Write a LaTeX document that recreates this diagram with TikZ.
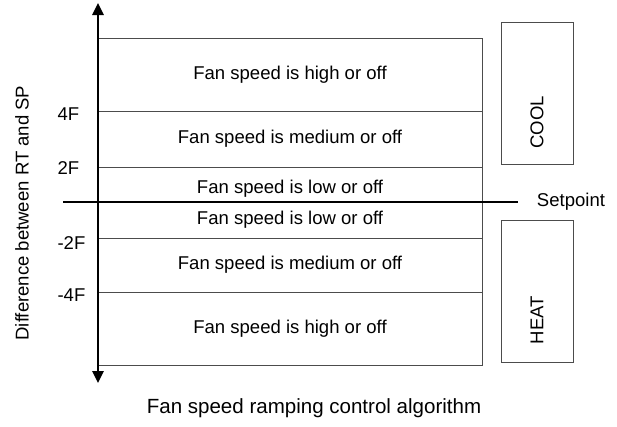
\documentclass[tikz,border=0pt]{standalone}
\usepackage{fontspec}
\setmainfont{Liberation Sans}
\usetikzlibrary{positioning,arrows.meta}

\begin{document}
\begin{tikzpicture}[x=0.75pt, y=-0.75pt, thick, >={Triangle[width=8.5pt,length=9pt]}, font=\fontsize{13.9}{16}\selectfont]
        \tikzstyle{band} = [rectangle, draw=black!70, line width=0.75pt, text centered,
                            minimum width=288pt, inner sep=0pt, outer sep=0pt]
        \tikzstyle{mode} = [rectangle, draw=black!70, line width=0.75pt,
                            minimum width=54pt, minimum height=106.5pt, outer sep=0pt]
        \tikzstyle{level} = [anchor=west, inner sep=0pt]
        \useasboundingbox (0,0) rectangle (617,426);

        % Bandes de vitesse du ventilateur
        \node[band, minimum height=54.75pt, anchor=north west] (high_cool) at (98,38) {Fan speed is high or off};
        \node[band, minimum height=42pt, below=0pt of high_cool] (med_cool) {Fan speed is medium or off};
        \node[band, minimum height=26.25pt, text height=16pt, below=0pt of med_cool] (low_cool) {Fan speed is low or off};
        \node[band, minimum height=27pt, below=0pt of low_cool] (low_heat) {Fan speed is low or off};
        \node[band, minimum height=40.5pt, below=0pt of low_heat] (med_heat) {Fan speed is medium or off};
        \node[band, minimum height=54.75pt, below=0pt of med_heat] (high_heat) {Fan speed is high or off};

        % Seuils
        \node[level] (plus4) at (57,114) {4F};
        \node[level] (plus2) at (57,168) {2F};
        \node[level] (minus2) at (57,243) {-2F};
        \node[level] (minus4) at (57,295) {-4F};

        % Axe vertical
        \coordinate (ytop) at (98,3);
        \coordinate (ybot) at (98,383);
        \draw[<->, line width=1.5pt] (ybot) -- (ytop);
        \node[rotate=90] (ylabel) at (22,213) {Difference between RT and SP};

        % Consigne
        \coordinate (sp_left) at (63,202);
        \coordinate (sp_right) at (518,202);
        \draw[line width=1.1pt] (sp_left) -- (sp_right);
        \node[anchor=west] (setpoint) at (532,202) {Setpoint};

        % Modes
        \node[mode, anchor=north west] (cool) at (501,22) {};
        \node[mode, anchor=north west] (heat) at (501,220) {};
        \node[rotate=90] (cool_txt) at ([yshift=-22pt]cool.center) {COOL};
        \node[rotate=90] (heat_txt) at ([yshift=-22pt]heat.center) {HEAT};

        % Titre
        \node[font=\fontsize{15.4}{18}\selectfont] (caption) at (314,408) {Fan speed ramping control algorithm};
    \end{tikzpicture}
\end{document}
